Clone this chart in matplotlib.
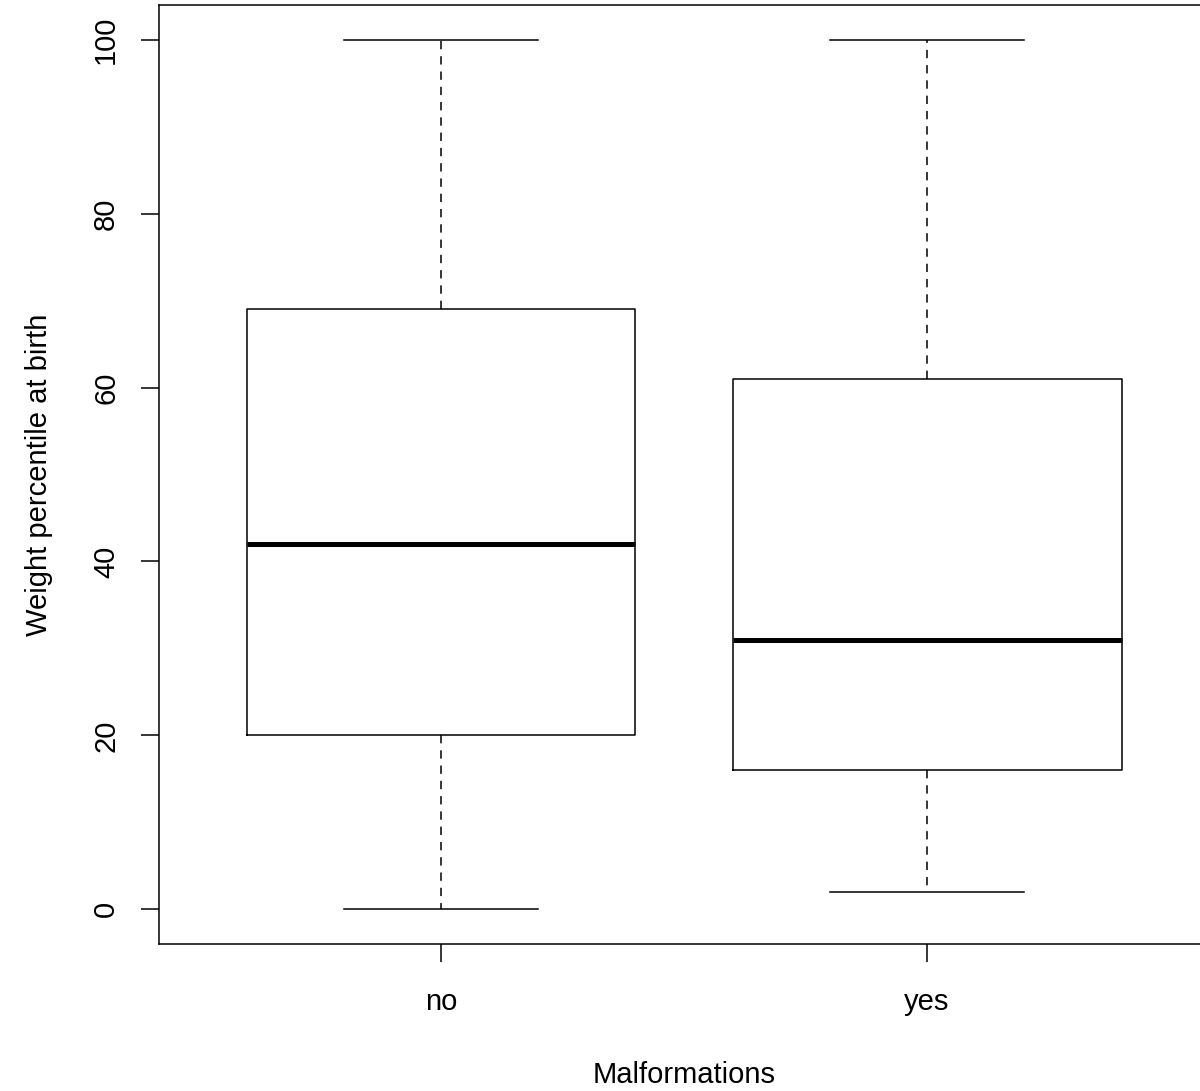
import matplotlib
matplotlib.use("Agg")
import matplotlib.pyplot as plt

plt.rcParams['font.family'] = ['Liberation Sans', 'DejaVu Sans']
plt.rcParams['lines.scale_dashes'] = False

categories = ["no", "yes"]
whisker_low = [0, 2]
q1 = [20, 16]
medians = [42, 31]
q3 = [69, 61]
whisker_high = [100, 100]
yticks = [0, 20, 40, 60, 80, 100]

stats = []
for i, c in enumerate(categories):
    stats.append(dict(label=c, whislo=whisker_low[i], q1=q1[i], med=medians[i],
                      q3=q3[i], whishi=whisker_high[i], fliers=[]))

W, H = 1200, 1091
fig = plt.figure(figsize=(W / 100, H / 100), dpi=100)
ax = fig.add_axes([159 / W, 1 - 944 / H, 1050 / W, 939 / H])

lw = 1.1
ax.bxp(stats, positions=[1, 2], widths=0.8, capwidths=0.4, showfliers=False,
       boxprops=dict(color='black', linewidth=lw),
       whiskerprops=dict(color='black', linewidth=lw, linestyle=(0, (6, 5))),
       capprops=dict(color='black', linewidth=lw),
       medianprops=dict(color='black', linewidth=3.6, solid_capstyle='butt'))

ax.set_xlim(0.42, 2.58)
ax.set_ylim(-4, 104)
ax.set_xticks([1, 2])
ax.set_xticklabels(categories)
ax.set_yticks(yticks)
ax.set_yticklabels([str(v) for v in yticks], rotation=90, va='center')

for s in ax.spines.values():
    s.set_linewidth(lw)
ax.tick_params(axis='both', length=13, width=lw, labelsize=21, color='black')
ax.tick_params(axis='x', pad=19)
ax.tick_params(axis='y', pad=15)

ax.set_xlabel("Malformations", fontsize=21)
ax.set_ylabel("Weight percentile at birth", fontsize=21)
ax.xaxis.set_label_coords(0.5, (944 - 1083) / 939)
ax.xaxis.label.set_va('baseline')
ax.yaxis.set_label_coords((47 - 159) / 1050, 0.5)
ax.yaxis.label.set_va('baseline')

fig.savefig("out.png", dpi=100)
